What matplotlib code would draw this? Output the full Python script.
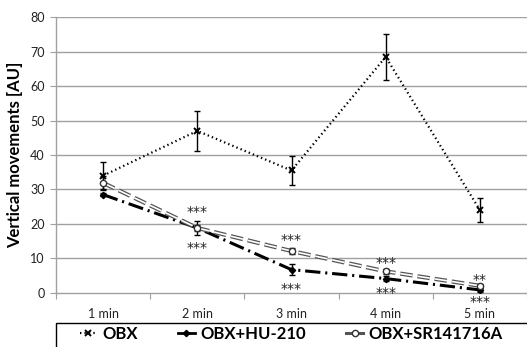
import matplotlib
matplotlib.use("Agg")
import matplotlib.pyplot as plt
from matplotlib.patches import Rectangle
from matplotlib.lines import Line2D
import numpy as np

plt.rcParams['font.family'] = ['Lato', 'DejaVu Sans']
plt.rcParams['lines.scale_dashes'] = False

categories = ['1 min', '2 min', '3 min', '4 min', '5 min']
obx = [34, 47, 35.5, 68.5, 24]
obx_err = [4, 5.7, 4.2, 6.6, 3.5]
hu = [28.5, 18.8, 6.7, 4.1, 0.8]
hu_err = [0.5, 2.0, 1.5, 0.8, 0.5]
sr = [31.9, 18.8, 12.1, 6.2, 2.0]
sr_err = [2.0, 0.8, 0.8, 0.8, 0.6]
stars_above = ['', '***', '***', '***', '**']
stars_below = ['', '***', '***', '***', '***']
yticks = [0, 10, 20, 30, 40, 50, 60, 70, 80]

W, H = 527, 347
fig = plt.figure(figsize=(W / 100, H / 100), dpi=100)
ax = fig.add_axes([56 / W, 1 - 292.7 / H, (W - 56) / W, (292.7 - 17.3) / H])

x = np.arange(len(categories)) + 0.5
ax.set_xlim(0, len(categories))
ax.set_ylim(0, 80)

grid_c = '#a0a0a0'
for yv in yticks[1:]:
    ax.axhline(yv, color=grid_c, lw=1.0, zorder=0)

for s in ['top', 'right']:
    ax.spines[s].set_visible(False)
for s in ['left', 'bottom']:
    ax.spines[s].set_color(grid_c)
    ax.spines[s].set_linewidth(1.0)

ax.set_yticks(yticks)
ax.tick_params(axis='y', length=4, color=grid_c, labelsize=9, pad=4, labelcolor='#222222')
ax.set_xticks(np.arange(len(categories) + 1))
ax.set_xticklabels([])
ax.set_xticks(x, minor=True)
ax.set_xticklabels(categories, minor=True)
ax.tick_params(axis='x', which='major', length=4, color=grid_c, direction='out')
ax.tick_params(axis='x', which='minor', length=0, labelsize=9, pad=11, labelcolor='#222222')

ax.set_ylabel('Vertical movements [AU]', fontsize=12, fontweight='bold', labelpad=5)

# OBX dotted
ax.errorbar(x, obx, yerr=obx_err, fmt='none', ecolor='black', elinewidth=1, capsize=2.5, capthick=1, zorder=3)
ax.plot(x, obx, color='black', lw=1.6, dashes=(1.0, 2.2), marker='x', ms=4.5, mew=1.4, zorder=4)

# HU-210 dash-dot
ax.errorbar(x, hu, yerr=hu_err, fmt='none', ecolor='black', elinewidth=1, capsize=2, capthick=1, zorder=3)
ax.plot(x, hu, color='black', lw=2.2, dashes=(11, 3.5, 1.5, 3.5), marker='D', ms=3.2, zorder=4)

# SR double dashed
ax.errorbar(x, sr, yerr=sr_err, fmt='none', ecolor='black', elinewidth=1, capsize=2, capthick=1, zorder=3)
ax.plot(x, sr, color='#555555', lw=3.0, dashes=(9, 3.5), zorder=4)
ax.plot(x, sr, color='white', lw=1.2, dashes=(9, 3.5), zorder=4.5)
ax.plot(x, sr, ls='none', marker='o', ms=4.5, mfc='white', mec='#333333', mew=1, zorder=5)

off_above = [0, 11.2, 7.8, 5.7, 4.0]
off_below = [0, 14.7, 14.1, 10.7, 8.5]
for i in range(len(categories)):
    if stars_above[i]:
        top = max(hu[i], sr[i])
        ax.annotate(stars_above[i], (x[i], top), xytext=(0, off_above[i]), textcoords='offset points',
                    ha='center', va='center', fontsize=10, color='#222222', family='DejaVu Sans')
    if stars_below[i]:
        bot = min(hu[i], sr[i])
        ax.annotate(stars_below[i], (x[i], bot), xytext=(0, -off_below[i]), textcoords='offset points',
                    ha='center', va='center', fontsize=10, color='#222222', family='DejaVu Sans',
                    annotation_clip=False)

# legend
h1 = Line2D([], [], color='black', lw=1.6, dashes=(1.0, 2.2), marker='x', ms=4.5, mew=1.4)
h2 = Line2D([], [], color='black', lw=2.0, marker='D', ms=3.2)
h3 = Line2D([], [], color='#555555', lw=2.2, marker='o', ms=4.5, mfc='white', mec='#333333')
leg = fig.legend([h1, h2, h3], ['OBX', 'OBX+HU-210', 'OBX+SR141716A'], loc='center',
                 bbox_to_anchor=((56 + W) / 2 / W, 1 - 334 / H), ncol=3, frameon=False,
                 prop={'weight': 'bold', 'size': 12}, handlelength=1.0, handletextpad=0.35,
                 columnspacing=2.4)
fig.add_artist(Rectangle((56 / W, -0.05), (W - 56 + 5) / W, (347 - 322.7) / H + 0.05,
                         transform=fig.transFigure, fill=False, ec='black', lw=1.0))

fig.savefig('out.png', dpi=100)
